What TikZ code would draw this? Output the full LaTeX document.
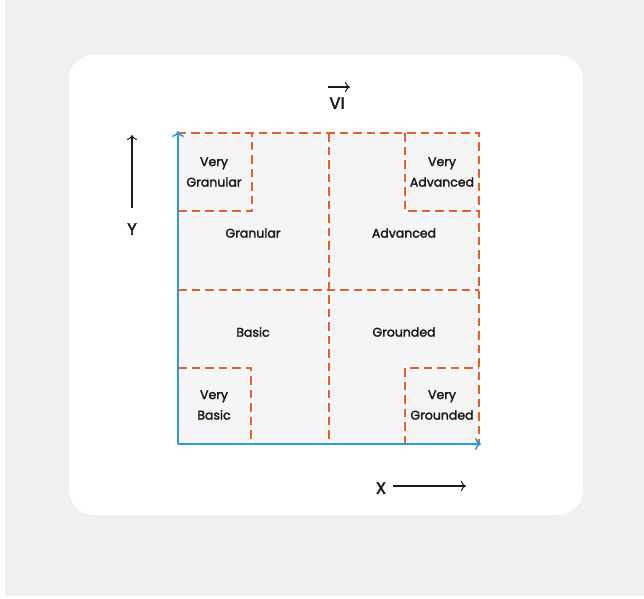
\documentclass[tikz,border=0pt]{standalone}
\usepackage{fontspec}
\setmainfont{Poppins}
\newfontfamily\labelfont[FakeBold=2.2]{Poppins}
\usetikzlibrary{arrows.meta}
\definecolor{pagegray}{HTML}{F0F0F0}
\definecolor{cellgray}{HTML}{F4F5F4}
\definecolor{axisblue}{HTML}{2A9BD8}
\definecolor{zoneorange}{HTML}{F05A28}
\definecolor{inkdark}{HTML}{1A1A1A}
\tikzset{
  gapline/.style={white, line width=3.4pt},
  zoneline/.style={zoneorange, line width=1.9pt, dash pattern=on 8.5pt off 5pt},
  axis/.style={axisblue, line width=2pt, -{To[length=6pt,width=12pt,line width=1.5pt]}},
  guide/.style={inkdark, line width=1.4pt, -{To[length=5pt,width=10pt,line width=1pt]}},
  zonelabel/.style={text=inkdark, font=\labelfont\fontsize{12.5}{20.5}\selectfont, align=center, inner sep=0pt},
  axislabel/.style={text=inkdark, font=\labelfont\fontsize{16.5}{18}\selectfont, inner sep=0pt},
}
\begin{document}
\begin{tikzpicture}[x=1pt, y=-1pt]
  \useasboundingbox (0,0) rectangle (644,598);
  % page and card
  \fill[pagegray] (5,0) rectangle (644,596);
  \fill[white, rounded corners=25pt] (69,55) rectangle (583,515);
  % quadrant area
  \fill[cellgray] (178,133) rectangle (479,444);
  % white gaps under the zone borders
  \foreach \p in {{(178,133) -- (479,133) -- (479,444)},
                  {(329,133) -- (329,444)}, {(178,290) -- (479,290)},
                  {(178,211) -- (252,211) -- (252,133)},
                  {(405,133) -- (405,211) -- (479,211)},
                  {(178,368) -- (251,368) -- (251,444)},
                  {(405,444) -- (405,368) -- (479,368)}}
    \draw[gapline] \p;
  % dashed zone borders
  \draw[zoneline] (178,444) -- (178,133) -- (479,133) -- (479,444) -- cycle;
  \draw[zoneline] (329,133) -- (329,444);
  \draw[zoneline] (178,290) -- (479,290);
  \draw[zoneline] (178,211) -- (252,211) -- (252,133);
  \draw[zoneline] (405,133) -- (405,211) -- (479,211);
  \draw[zoneline] (178,368) -- (251,368) -- (251,444);
  \draw[zoneline] (405,444) -- (405,368) -- (479,368);
  % axes
  \coordinate (origin) at (178,444);
  \coordinate (ytop) at (178,131);
  \coordinate (xend) at (481,444);
  \draw[axis] (origin) -- (ytop);
  \draw[axis] (origin) -- (xend);
  % zone labels
  \node[zonelabel] (vgran) at (214,172) {Very\\Granular};
  \node[zonelabel] (gran) at (253,233) {Granular};
  \node[zonelabel] (adv) at (404,233) {Advanced};
  \node[zonelabel] (vadv) at (442,172) {Very\\Advanced};
  \node[zonelabel] (basic) at (253,332) {Basic};
  \node[zonelabel] (ground) at (404,332) {Grounded};
  \node[zonelabel] (vbasic) at (214,405) {Very\\Basic};
  \node[zonelabel] (vground) at (442,405) {Very\\Grounded};
  % axis captions with their direction arrows
  \node[axislabel] (vi) at (337,103) {VI};
  \coordinate (viL) at (328,87);
  \coordinate (viR) at (350,87);
  \draw[guide] (viL) -- (viR);
  \node[axislabel] (ylab) at (132,229) {Y};
  \coordinate (yfoot) at (132,208);
  \coordinate (yhead) at (132,135);
  \draw[guide] (yfoot) -- (yhead);
  \node[axislabel] (xlab) at (381,488) {X};
  \coordinate (xfoot) at (393,486);
  \coordinate (xhead) at (466,486);
  \draw[guide] (xfoot) -- (xhead);
\end{tikzpicture}
\end{document}
